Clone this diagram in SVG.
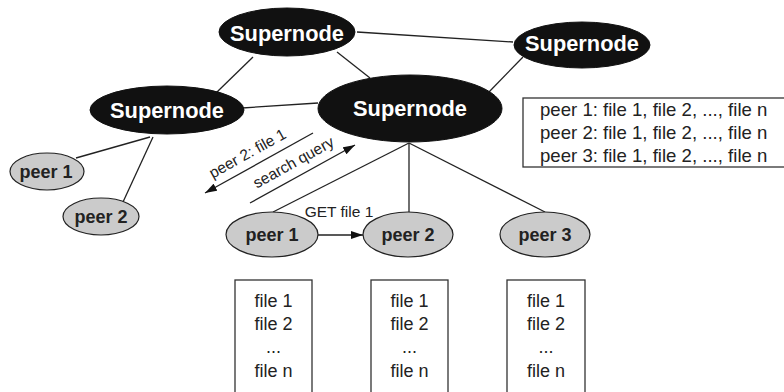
<svg xmlns="http://www.w3.org/2000/svg" width="784" height="392" viewBox="0 0 784 392">
<defs>
<style>
.sn{fill:#111;stroke:#111;stroke-width:1}
.snt{font-family:"Liberation Sans",Arial,sans-serif;font-weight:bold;font-size:21.8px;fill:#fff;text-anchor:middle}
.pe{fill:#cbcbcb;stroke:#222;stroke-width:1.2}
.pt{font-family:"Liberation Sans",Arial,sans-serif;font-weight:bold;font-size:18px;fill:#222;text-anchor:middle}
.ln{stroke:#222;stroke-width:1.3;fill:none}
.lbl{font-family:"Liberation Sans",Arial,sans-serif;font-size:15.5px;fill:#222}
.box{fill:#fff;stroke:#333;stroke-width:1.3}
.bt{font-family:"Liberation Sans",Arial,sans-serif;font-size:18px;fill:#222;text-anchor:middle}
.tt{font-family:"Liberation Sans",Arial,sans-serif;font-size:18.6px;fill:#222}
</style>
<marker id="ah" viewBox="0 0 12 8" refX="12" refY="4" markerWidth="12" markerHeight="8" markerUnits="userSpaceOnUse" orient="auto">
<path d="M0,0 L12,4 L0,8 Z" fill="#111"/>
</marker>
</defs>
<g id="connectors">
<line class="ln" x1="253" y1="57" x2="217" y2="92"/>
<line class="ln" x1="337" y1="52" x2="370" y2="78"/>
<line class="ln" x1="357" y1="32" x2="513" y2="42"/>
<line class="ln" x1="523" y1="57" x2="488" y2="93"/>
<line class="ln" x1="242" y1="108" x2="318" y2="103"/>
<line class="ln" x1="150" y1="137" x2="76" y2="158"/>
<line class="ln" x1="153" y1="137" x2="123" y2="202"/>
<line class="ln" x1="409" y1="143" x2="273" y2="212"/>
<line class="ln" x1="409" y1="143" x2="409" y2="212"/>
<line class="ln" x1="409" y1="143" x2="545" y2="212"/>
<line class="ln" x1="313" y1="133" x2="205" y2="193" marker-end="url(#ah)"/>
<line class="ln" x1="250" y1="203" x2="355" y2="145" marker-end="url(#ah)"/>
<line class="ln" x1="318" y1="235" x2="363" y2="235" marker-end="url(#ah)"/>
<text class="lbl" text-anchor="middle" transform="translate(250,158) rotate(-29)">peer 2: file 1</text>
<text class="lbl" text-anchor="middle" transform="translate(296,167) rotate(-29)">search query</text>
<text class="lbl" x="339" y="217" text-anchor="middle" font-size="14.5">GET file 1</text>
</g>
<g id="supernode-top">
<ellipse class="sn" cx="287" cy="32" rx="68" ry="24"/>
<text class="snt" x="287" y="41">Supernode</text>
</g>
<g id="supernode-right">
<ellipse class="sn" cx="582" cy="45" rx="68" ry="23"/>
<text class="snt" x="582" y="51">Supernode</text>
</g>
<g id="supernode-left">
<ellipse class="sn" cx="167" cy="110" rx="77" ry="24"/>
<text class="snt" x="167" y="118">Supernode</text>
</g>
<g id="supernode-center">
<ellipse class="sn" cx="410" cy="108.5" rx="92" ry="33.5"/>
<text class="snt" x="410" y="116">Supernode</text>
</g>
<g id="peer1-left">
<ellipse class="pe" cx="47" cy="171.5" rx="37" ry="18.5"/>
<text class="pt" x="46" y="178">peer 1</text>
</g>
<g id="peer2-left">
<ellipse class="pe" cx="101" cy="216.5" rx="38" ry="18.5"/>
<text class="pt" x="101" y="223">peer 2</text>
</g>
<g id="peer1">
<ellipse class="pe" cx="272" cy="234.5" rx="46" ry="22.5"/>
<text class="pt" x="272" y="241">peer 1</text>
</g>
<g id="peer2">
<ellipse class="pe" cx="408" cy="234.5" rx="45" ry="22.5"/>
<text class="pt" x="408" y="241">peer 2</text>
</g>
<g id="peer3">
<ellipse class="pe" cx="545" cy="234.5" rx="45" ry="22.5"/>
<text class="pt" x="545" y="241">peer 3</text>
</g>
<g id="index-table">
<rect class="box" x="523" y="98" width="270" height="69" stroke="#555"/>
<text class="tt" x="540" y="116">peer 1: file 1, file 2, ..., file n</text>
<text class="tt" x="540" y="139">peer 2: file 1, file 2, ..., file n</text>
<text class="tt" x="540" y="162">peer 3: file 1, file 2, ..., file n</text>
</g>
<g id="files-peer1">
<rect class="box" x="235" y="280" width="77" height="120"/>
<text class="bt" x="273.5" y="307">file 1</text>
<text class="bt" x="273.5" y="330">file 2</text>
<text class="bt" x="273.5" y="353">...</text>
<text class="bt" x="273.5" y="377">file n</text>
</g>
<g id="files-peer2">
<rect class="box" x="371" y="280" width="77" height="120"/>
<text class="bt" x="409.5" y="307">file 1</text>
<text class="bt" x="409.5" y="330">file 2</text>
<text class="bt" x="409.5" y="353">...</text>
<text class="bt" x="409.5" y="377">file n</text>
</g>
<g id="files-peer3">
<rect class="box" x="507" y="280" width="78" height="120"/>
<text class="bt" x="546" y="307">file 1</text>
<text class="bt" x="546" y="330">file 2</text>
<text class="bt" x="546" y="353">...</text>
<text class="bt" x="546" y="377">file n</text>
</g>
</svg>
